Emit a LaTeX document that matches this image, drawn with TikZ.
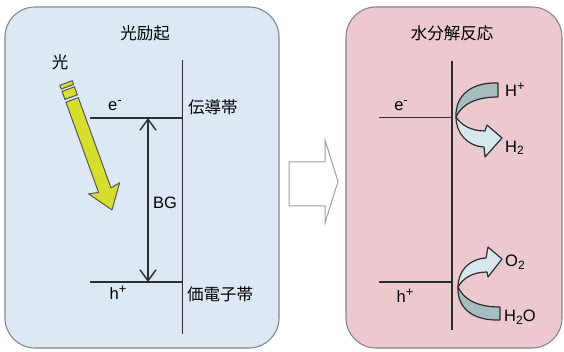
\documentclass[tikz,border=0pt]{standalone}
\usepackage{fontspec}
\setmainfont{Liberation Sans}
\newfontfamily\jpfont{Noto Sans CJK JP}
\usetikzlibrary{arrows.meta}
\definecolor{panelblue}{RGB}{220,233,245}
\definecolor{panelpink}{RGB}{235,201,206}
\definecolor{edgegray}{RGB}{135,135,135}
\definecolor{linedark}{RGB}{45,45,45}
\definecolor{lightyel}{RGB}{214,223,46}
\definecolor{banddark}{RGB}{166,188,193}
\definecolor{bandlight}{RGB}{214,231,237}
\newcommand{\supbig}[1]{\raisebox{6pt}{\fontsize{13}{14}\selectfont #1}}
\newcommand{\subsm}[1]{\raisebox{-2.5pt}{\fontsize{12}{13}\selectfont #1}}
\tikzset{
  panel/.style={draw=edgegray, line width=1.1pt, rounded corners=30pt},
  jp/.style={font=\jpfont\fontsize{16.5}{18}\selectfont, inner sep=1pt},
  lat/.style={font=\fontsize{16.5}{18}\selectfont, inner sep=1pt, text=black},
  band/.style={draw=linedark, line width=1.8pt},
  bandthin/.style={draw=linedark, line width=1pt},
  curvearrow/.style={draw=linedark, line width=1.2pt, line join=round},
}
\begin{document}
\begin{tikzpicture}[x=1pt,y=-1pt]
\useasboundingbox (0,0) rectangle (564,352);
\fill[white] (0,0) rectangle (564,352);

% panels
\draw[panel, fill=panelblue] (5,7) rectangle (279,348);
\draw[panel, fill=panelpink] (346,7) rectangle (562,348);

% titles
\node[jp] (titleL) at (145,33) {光励起};
\node[jp] (titleR) at (452,33) {水分解反応};

% ---- left panel ----
\coordinate (vLt) at (182.5,60);
\coordinate (vLb) at (182.5,334);
\draw[band] (vLt) -- (vLb);
\coordinate (eLl) at (90,118);
\coordinate (hLl) at (90,282);
\draw[band] (eLl) -- (eLl -| vLt);
\draw[band] (hLl) -- (hLl -| vLt);
\coordinate (bgT) at (148,118);
\coordinate (bgB) at (148,282);
\draw[linedark, line width=1.4pt, {Straight Barb[length=11pt,width=16pt]}-{Straight Barb[length=11pt,width=16pt]}] (bgT) -- (bgB);

\node[lat] (eL) at (115,106) {e\supbig{-}};
\node[lat] (hL) at (118,293) {h\supbig{+}};
\node[lat] (bg) at (165,203) {BG};
\node[jp, anchor=west] (cbL) at (187,107) {伝導帯};
\node[jp, anchor=west] (vbL) at (186,294) {価電子帯};
\node[jp] (light) at (60,62) {光};

% light arrow (yellow)
\begin{scope}[shift={(66,83)}, rotate=-70.1]
  \draw[draw=linedark!80, line width=1pt, fill=lightyel] (0,-6.6) rectangle (4,6.6);
  \draw[draw=linedark!80, line width=1pt, fill=lightyel] (6.5,-6.6) rectangle (15,6.6);
  \draw[draw=linedark!80, line width=1pt, fill=lightyel, line join=round]
    (18,-6.6) -- (114,-6.6) -- (112,-16.5) -- (135,0) -- (112,16.5) -- (114,6.6) -- (18,6.6) -- cycle;
\end{scope}

% middle hollow arrow
\draw[draw=edgegray!80, line width=1pt, fill=white]
  (289,162) -- (325,162) -- (325,140) -- (338,181.5) -- (325,223) -- (325,206) -- (289,206) -- cycle;

% ---- right panel ----
\coordinate (vRt) at (452,61);
\coordinate (vRb) at (452,330);
\draw[linedark, line width=1.3pt] (vRt) -- (vRb);
\coordinate (eRl) at (379,118);
\coordinate (hRl) at (379,282);
\draw[bandthin] (eRl) -- (eRl -| vRt);
\draw[band] (hRl) -- (hRl -| vRt);
\node[lat] (eR) at (401,106) {e\supbig{-}};
\node[lat] (hR) at (405,296) {h\supbig{+}};

% upper curved arrow H+ -> H2
\draw[curvearrow, fill=banddark]
  (498,83) .. controls (472,82) and (455,95) .. (456,117)
  .. controls (462,104) and (476,97) .. (498,97) -- cycle;
\draw[curvearrow, fill=bandlight]
  (456,117) .. controls (456,133) and (467,146) .. (484,147)
  -- (485,157) -- (502,138) -- (487,125) -- (485,131)
  .. controls (471,131) and (461,125) .. (456,117) -- cycle;

% lower curved arrow H2O -> O2 (mirror)
\begin{scope}[shift={(2,404)}, yscale=-1]
\draw[curvearrow, fill=banddark]
  (498,84) .. controls (472,83) and (455,95) .. (456,117)
  .. controls (462,104) and (476,97) .. (498,97) -- cycle;
\draw[curvearrow, fill=bandlight]
  (456,117) .. controls (456,133) and (467,145) .. (484,146)
  -- (486,157) -- (500,145) -- (486,127) -- (485,132)
  .. controls (471,132) and (461,126) .. (456,117) -- cycle;
\end{scope}

\node[lat, anchor=west] (Hp) at (504,90) {H\supbig{+}};
\node[lat, anchor=west] (H2) at (504,148) {H\subsm{2}};
\node[lat, anchor=west] (O2) at (504,262) {O\subsm{2}};
\node[lat, anchor=west] (H2O) at (503,317) {H\subsm{2}O};
\end{tikzpicture}
\end{document}
